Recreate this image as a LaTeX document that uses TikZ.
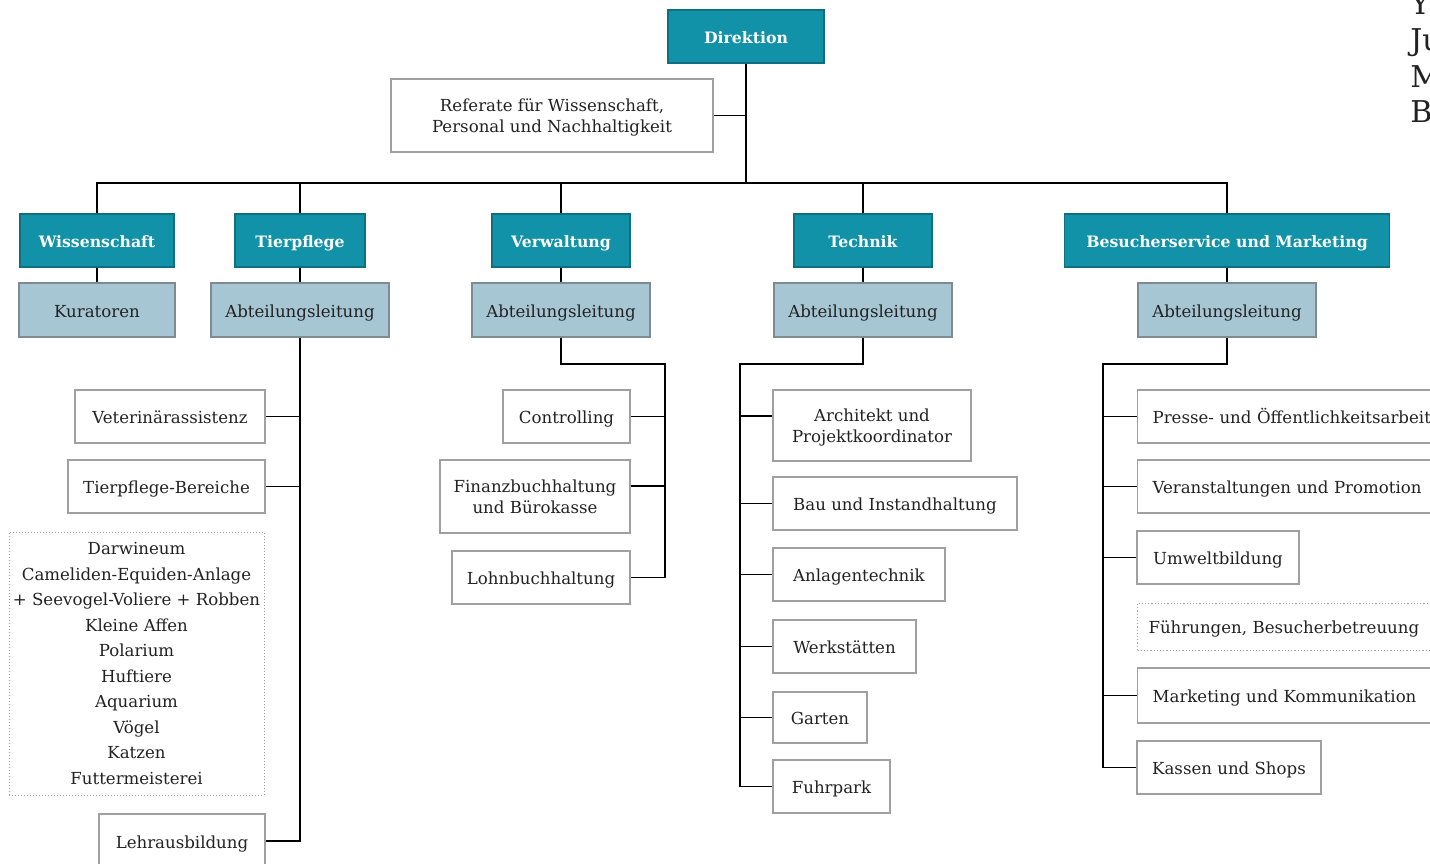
\documentclass[tikz,border=0pt]{standalone}
\usepackage{fontspec}
\setmainfont{DejaVu Serif}
\usetikzlibrary{positioning}
\definecolor{teal1}{HTML}{1192A9}
\definecolor{teal2}{HTML}{0E6F80}
\definecolor{lblue}{HTML}{A6C6D3}
\definecolor{lbord}{HTML}{7E8C92}
\definecolor{wbord}{HTML}{A0A0A0}
\definecolor{txt}{HTML}{222222}
\tikzset{
  base/.style={inner sep=0pt, align=center, text=txt, font=\fontsize{8.3}{10.5}\selectfont, text height=8pt, text depth=1pt},
  ml/.style={text height=, text depth=},
  mltwo/.style={text height=18.6pt, text depth=1.8pt},
  topbox/.style={base, fill=teal1, draw=teal2, line width=0.6pt, text=white, font=\bfseries\fontsize{7.85}{10}\selectfont, text height=7.6pt},
  subbox/.style={base, fill=lblue, draw=lbord, line width=0.6pt},
  wbox/.style={base, fill=white, draw=wbord, line width=0.6pt},
  dbox/.style={base, fill=white, draw=wbord, densely dotted, line width=0.5pt},
  rbox/.style={wbox, anchor=west, align=left, inner xsep=7.5pt, text width=145pt, minimum width=160pt},
  corner/.style={base, ml, anchor=base west, font=\fontsize{15}{16}\selectfont},
  conn/.style={draw=black, line width=0.6pt},
}
\begin{document}
\begin{tikzpicture}[x=0.5pt,y=-0.5pt]
\useasboundingbox (0,0) rectangle (1430,863);
\clip (0,0) rectangle (1430,863);
\fill[white] (0,0) rectangle (1430,863);
% top
\node[topbox, minimum width=78pt, minimum height=26.5pt] (dir) at (746,36.5) {Direktion};
\node[wbox, mltwo, minimum width=161pt, minimum height=36.5pt] (ref) at (552,115.5) {Referate für Wissenschaft,\\Personal und Nachhaltigkeit};
% level 1
\node[topbox, minimum width=77pt, minimum height=26.5pt] (wiss) at (97,240.5) {Wissenschaft};
\node[topbox, minimum width=65pt, minimum height=26.5pt] (tier) at (300,240.5) {Tierpflege};
\node[topbox, minimum width=69pt, minimum height=26.5pt] (verw) at (561,240.5) {Verwaltung};
\node[topbox, minimum width=69pt, minimum height=26.5pt] (tech) at (863,240.5) {Technik};
\node[topbox, minimum width=162.5pt, minimum height=26.5pt] (bes) at (1227,240.5) {Besucherservice und Marketing};
% level 2
\node[subbox, minimum width=78pt, minimum height=27pt] (kur) at (97,310) {Kuratoren};
\node[subbox, minimum width=89pt, minimum height=27pt] (a1) at (300,310) {Abteilungsleitung};
\node[subbox, minimum width=89pt, minimum height=27pt] (a2) at (561,310) {Abteilungsleitung};
\node[subbox, minimum width=89pt, minimum height=27pt] (a3) at (863,310) {Abteilungsleitung};
\node[subbox, minimum width=89pt, minimum height=27pt] (a4) at (1227,310) {Abteilungsleitung};
% Tierpflege children
\node[wbox, minimum width=95pt, minimum height=26.5pt] (vet) at (170,416.5) {Veterinärassistenz};
\node[wbox, minimum width=98.5pt, minimum height=26.5pt] (tpb) at (166.5,486.5) {Tierpflege-Bereiche};
\node[dbox, ml, minimum width=127.5pt, minimum height=131.5pt, font=\fontsize{8.3}{12.75}\selectfont] (bereiche) at (136.5,663.5) {Darwineum\\Cameliden-Equiden-Anlage\\+ Seevogel-Voliere + Robben\\Kleine Affen\\Polarium\\Huftiere\\Aquarium\\Vögel\\Katzen\\Futtermeisterei};
\node[wbox, minimum width=83pt, minimum height=27pt] (lehr) at (182,841) {Lehrausbildung};
% Verwaltung children
\node[wbox, minimum width=63.5pt, minimum height=26.5pt] (ctrl) at (566.5,416.5) {Controlling};
\node[wbox, mltwo, minimum width=95pt, minimum height=36.5pt] (fin) at (535,496.5) {Finanzbuchhaltung\\und Bürokasse};
\node[wbox, minimum width=89pt, minimum height=26.5pt] (lohn) at (541,577.5) {Lohnbuchhaltung};
% Technik children
\node[wbox, mltwo, minimum width=99pt, minimum height=35.5pt] (arch) at (872,425.5) {Architekt und\\Projektkoordinator};
\node[wbox, minimum width=122pt, minimum height=26.5pt] (bau) at (895,503.5) {Bau und Instandhaltung};
\node[wbox, minimum width=86pt, minimum height=26.5pt] (anl) at (859,574.5) {Anlagentechnik};
\node[wbox, minimum width=71.5pt, minimum height=26.5pt] (werk) at (844.5,646.5) {Werkstätten};
\node[wbox, minimum width=47pt, minimum height=25.5pt] (gart) at (820,717.5) {Garten};
\node[wbox, minimum width=58.5pt, minimum height=26.5pt] (fuhr) at (831.5,786.5) {Fuhrpark};
% Besucherservice children
\node[rbox, minimum height=26.5pt] (presse) at (1137,416.5) {Presse- und Öffentlichkeitsarbeit};
\node[rbox, minimum height=26.5pt] (veran) at (1137,486.5) {Veranstaltungen und Promotion};
\node[wbox, minimum width=81pt, minimum height=26.5pt] (umw) at (1218,557.5) {Umweltbildung};
\node[rbox, dbox, align=left, inner xsep=5.5pt, text width=149pt, minimum height=23.5pt] (fuehr) at (1137,626.5) {Führungen, Besucherbetreuung};
\node[rbox, minimum height=27.5pt] (mark) at (1137,695.5) {Marketing und Kommunikation};
\node[wbox, minimum width=92pt, minimum height=26.5pt] (kass) at (1229,767.5) {Kassen und Shops};
% corner text (cut off at the right edge as in the reference)
\node[corner] (c1) at (1410,14) {Y};
\node[corner] (c2) at (1410,50) {Ju};
\node[corner] (c3) at (1410,87) {M};
\node[corner] (c4) at (1410,122) {B};
% connectors
\coordinate (bus) at (746,183);
\draw[conn] (dir.south) -- (bus);
\draw[conn] (ref.east) -- (ref.east -| dir.south);
\foreach \n in {wiss,tier,verw,tech,bes} \draw[conn] (\n.north) |- (bus);
\draw[conn] (wiss.south) -- (kur.north);
\draw[conn] (tier.south) -- (a1.north);
\draw[conn] (verw.south) -- (a2.north);
\draw[conn] (tech.south) -- (a3.north);
\draw[conn] (bes.south) -- (a4.north);
% Tierpflege
\draw[conn] (a1.south) |- (lehr.east);
\draw[conn] (vet.east) -- (vet.east -| a1.south);
\draw[conn] (tpb.east) -- (tpb.east -| a1.south);
% Verwaltung
\coordinate (vt) at (665,364);
\draw[conn] (a2.south) |- (vt) |- (lohn.east);
\draw[conn] (ctrl.east) -- (ctrl.east -| vt);
\draw[conn] ([yshift=5.25pt]fin.east) -- ([yshift=5.25pt]fin.east -| vt);
% Technik
\coordinate (tt) at (740,364);
\draw[conn] (a3.south) |- (tt) |- (fuhr.west);
\draw[conn] ([yshift=4.75pt]arch.west) -- ([yshift=4.75pt]arch.west -| tt);
\foreach \n in {bau,anl,werk,gart} \draw[conn] (\n.west) -- (\n.west -| tt);
% Besucherservice
\coordinate (bt) at (1103,364);
\draw[conn] (a4.south) |- (bt) |- (kass.west);
\foreach \n in {presse,veran,umw,mark} \draw[conn] (\n.west) -- (\n.west -| bt);
\end{tikzpicture}
\end{document}
